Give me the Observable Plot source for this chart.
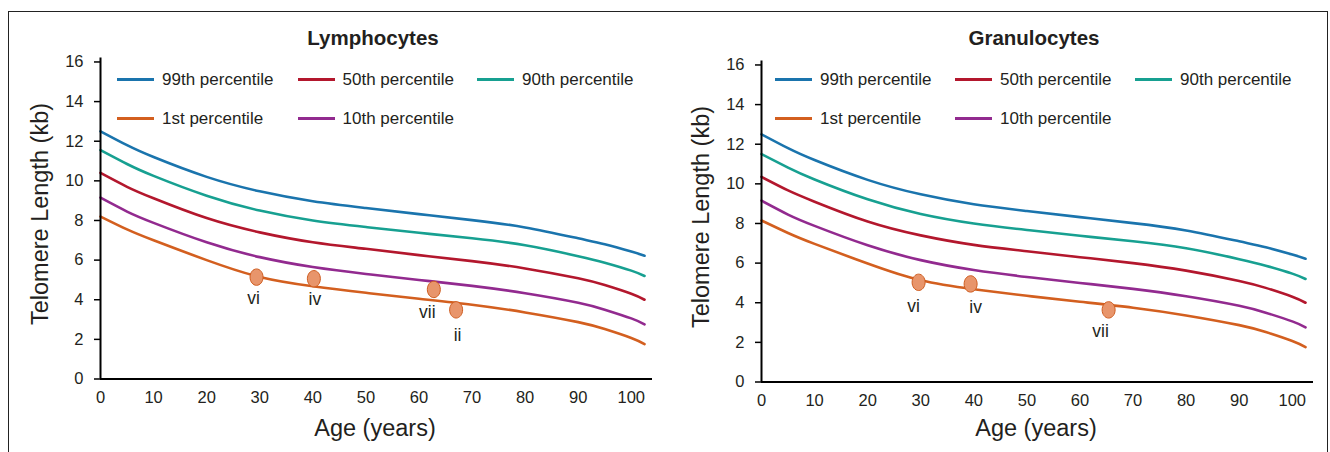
<!DOCTYPE html>
<html>
<head>
<meta charset="utf-8">
<script src="https://cdn.jsdelivr.net/npm/d3@7"></script>
<script src="https://cdn.jsdelivr.net/npm/@observablehq/plot@0.6"></script>
<style>
  html, body { margin: 0; padding: 0; background: #fff; }
  #root { position: relative; width: 1330px; height: 452px; overflow: hidden; font-family: "Liberation Sans", Arial, sans-serif; color: #231f20; }
  .frame { position: absolute; left: 8px; top: 11px; width: 1320px; height: 460px; border: 1px solid #222; box-sizing: border-box; }
  .panel { position: absolute; top: 0; }
  .t { position: absolute; white-space: nowrap; }
  .sw { position: absolute; height: 3px; }
</style>
</head>
<body>
<div id="root"><div class="frame"></div></div>
<script>
// ---- Data ----
const ages = [0, 5, 10, 20, 30, 40, 50, 60, 70, 80, 90, 95, 100, 102.5];

const lymph99 = [12.5, 11.8, 11.2, 10.2, 9.47, 8.97, 8.63, 8.32, 8.02, 7.65, 7.1, 6.8, 6.43, 6.22];
const lymph90 = [11.55, 10.85, 10.25, 9.25, 8.5, 8.0, 7.67, 7.38, 7.1, 6.75, 6.2, 5.87, 5.47, 5.2];
const lymph50 = [10.4, 9.7, 9.12, 8.12, 7.4, 6.9, 6.57, 6.25, 5.95, 5.58, 5.08, 4.74, 4.3, 4.0];
const lymph10 = [9.15, 8.45, 7.88, 6.9, 6.15, 5.65, 5.3, 5.0, 4.7, 4.33, 3.85, 3.5, 3.06, 2.76];
const lymph1  = [8.2, 7.55, 7.0, 6.0, 5.15, 4.68, 4.35, 4.05, 3.75, 3.36, 2.87, 2.52, 2.07, 1.76];

const gran99 = [12.5, 11.8, 11.2, 10.2, 9.47, 8.97, 8.63, 8.32, 8.02, 7.65, 7.1, 6.8, 6.43, 6.22];
const gran90 = [11.5, 10.82, 10.22, 9.22, 8.48, 8.0, 7.67, 7.38, 7.1, 6.75, 6.2, 5.87, 5.47, 5.2];
const gran50 = [10.35, 9.67, 9.1, 8.1, 7.4, 6.92, 6.6, 6.3, 6.0, 5.62, 5.1, 4.75, 4.3, 4.0];
const gran10 = [9.15, 8.45, 7.88, 6.9, 6.15, 5.65, 5.3, 5.0, 4.7, 4.33, 3.85, 3.5, 3.06, 2.76];
const gran1  = [8.15, 7.52, 6.97, 5.98, 5.13, 4.68, 4.35, 4.05, 3.75, 3.36, 2.87, 2.52, 2.07, 1.76];

const seriesNames = ["99th percentile", "90th percentile", "50th percentile", "10th percentile", "1st percentile"];
const seriesColors = ["#1a74ad", "#17a091", "#b3172d", "#922a8f", "#d35f1f"];

const lymphPointLabels = ["vi", "iv", "vii", "ii"];
const lymphPointAges   = [29.4, 40.2, 62.8, 67.0];
const lymphPointValues = [5.14, 5.06, 4.52, 3.49];

const granPointLabels = ["vi", "iv", "vii"];
const granPointAges   = [29.6, 39.4, 65.4];
const granPointValues = [5.03, 4.95, 3.64];

const xTicks = [0, 10, 20, 30, 40, 50, 60, 70, 80, 90, 100];
const yTicks = [0, 2, 4, 6, 8, 10, 12, 14, 16];

// legend layout order (row 1, row 2)
const legendRows = [["99th percentile", "50th percentile", "90th percentile"], ["1st percentile", "10th percentile"]];

// ---- Styling helpers ----
const FONT = '"Liberation Sans", Arial, sans-serif';
const root = document.getElementById("root");
const colorOf = Object.fromEntries(seriesNames.map((n, i) => [n, seriesColors[i]]));

function addText(txt, x, baseline, size, anchor = "middle", weight = "normal") {
  const d = document.createElement("div");
  d.className = "t";
  d.textContent = txt;
  d.style.fontSize = size + "px";
  d.style.lineHeight = size + "px";
  d.style.fontWeight = weight;
  d.style.top = (baseline - 0.8465 * size) + "px";
  d.style.left = x + "px";
  if (anchor === "middle") d.style.transform = "translateX(-50%)";
  else if (anchor === "end") d.style.transform = "translateX(-100%)";
  root.appendChild(d);
  return d;
}
function addRotated(txt, cx, cy, size) {
  const d = document.createElement("div");
  d.className = "t";
  d.textContent = txt;
  d.style.fontSize = size + "px";
  d.style.lineHeight = size + "px";
  d.style.left = cx + "px";
  d.style.top = cy + "px";
  d.style.transform = "translate(-50%,-50%) rotate(-90deg)";
  root.appendChild(d);
}

const ellipse = {
  draw(ctx) {
    const rx = 6.5, ry = 8.2, k = 0.5523;
    ctx.moveTo(rx, 0);
    ctx.bezierCurveTo(rx, ry * k, rx * k, ry, 0, ry);
    ctx.bezierCurveTo(-rx * k, ry, -rx, ry * k, -rx, 0);
    ctx.bezierCurveTo(-rx, -ry * k, -rx * k, -ry, 0, -ry);
    ctx.bezierCurveTo(rx * k, -ry, rx, -ry * k, rx, 0);
    ctx.closePath();
  }
};

function panel({left, top, title, curves, pLabels, pAges, pValues, labelOffsets, legendX}) {
  const rows = [];
  curves.forEach((vals, si) => ages.forEach((a, i) => rows.push({age: a, value: vals[i], name: seriesNames[si]})));
  const pts = pLabels.map((l, i) => ({label: l, age: pAges[i], value: pValues[i]}));

  const labelMarks = pts.map(p => Plot.text([p], {
    x: "age", y: "value", text: "label",
    dx: labelOffsets[p.label][0], dy: labelOffsets[p.label][1],
    lineAnchor: "bottom", fontSize: 17.5, fill: "#231f20"
  }));

  const plot = Plot.plot({
    width: 660, height: 452,
    marginLeft: 100, marginRight: 8, marginTop: 57.5, marginBottom: 73.5,
    x: {domain: [0, 104]},
    y: {domain: [0, 16.2]},
    color: {domain: seriesNames, range: seriesColors},
    style: {fontFamily: FONT, fontSize: "16px", color: "#231f20", background: "transparent", overflow: "visible"},
    marks: [
      Plot.axisY({ticks: yTicks, tickSize: 6, tickPadding: 11, label: null, fontSize: 16.5, stroke: "#000", strokeWidth: 1.5}),
      Plot.axisX({ticks: xTicks, tickSize: 0, tickPadding: 12, label: null, fontSize: 16.5}),
      Plot.line(rows, {x: "age", y: "value", z: "name", stroke: "name", strokeWidth: 2.6, curve: "natural"}),
      Plot.ruleX([0], {stroke: "#000", strokeWidth: 2}),
      Plot.ruleY([0], {stroke: "#000", strokeWidth: 2}),
      Plot.dot(pts, {x: "age", y: "value", symbol: ellipse, fill: "#e8956b", stroke: "#cf5c1f", strokeWidth: 1}),
      ...labelMarks
    ]
  });
  const wrap = document.createElement("div");
  wrap.className = "panel";
  wrap.style.left = left + "px";
  wrap.style.top = top + "px";
  wrap.appendChild(plot);
  root.appendChild(wrap);

  // title
  addText(title, left + 373, 45, 20.5, "middle", "bold");
  // axis titles
  addRotated("Telomere Length (kb)", left + 41, top + 214, 23.5);
  addText("Age (years)", left + 375, 437, 23.5, "middle");
  // legend
  const rowY = [79, 118.3];
  legendRows.forEach((row, ri) => row.forEach((name, ci) => {
    const lx = legendX[ci] + left;
    const sw = document.createElement("div");
    sw.className = "sw";
    sw.style.left = lx + "px";
    sw.style.width = "37px";
    sw.style.top = (rowY[ri] - 1.5) + "px";
    sw.style.background = colorOf[name];
    root.appendChild(sw);
    const t = document.createElement("div");
    t.className = "t";
    t.textContent = name;
    t.style.fontSize = "17px";
    t.style.lineHeight = "17px";
    t.style.left = (lx + 45) + "px";
    t.style.top = (rowY[ri] - 8.5) + "px";
    root.appendChild(t);
  }));
}

panel({
  left: 0, top: 0, title: "Lymphocytes",
  curves: [lymph99, lymph90, lymph50, lymph10, lymph1],
  pLabels: lymphPointLabels, pAges: lymphPointAges, pValues: lymphPointValues,
  labelOffsets: {vi: [-3, 27], iv: [1, 26], vii: [-6.5, 28.7], ii: [1.5, 30.7]},
  legendX: [117, 297.5, 477]
});
panel({
  left: 661, top: 3, title: "Granulocytes",
  curves: [gran99, gran90, gran50, gran10, gran1],
  pLabels: granPointLabels, pAges: granPointAges, pValues: granPointValues,
  labelOffsets: {vi: [-5, 30], iv: [5, 28.7], vii: [-8, 27.4]},
  legendX: [114, 294, 474]
});
</script>
</body>
</html>
